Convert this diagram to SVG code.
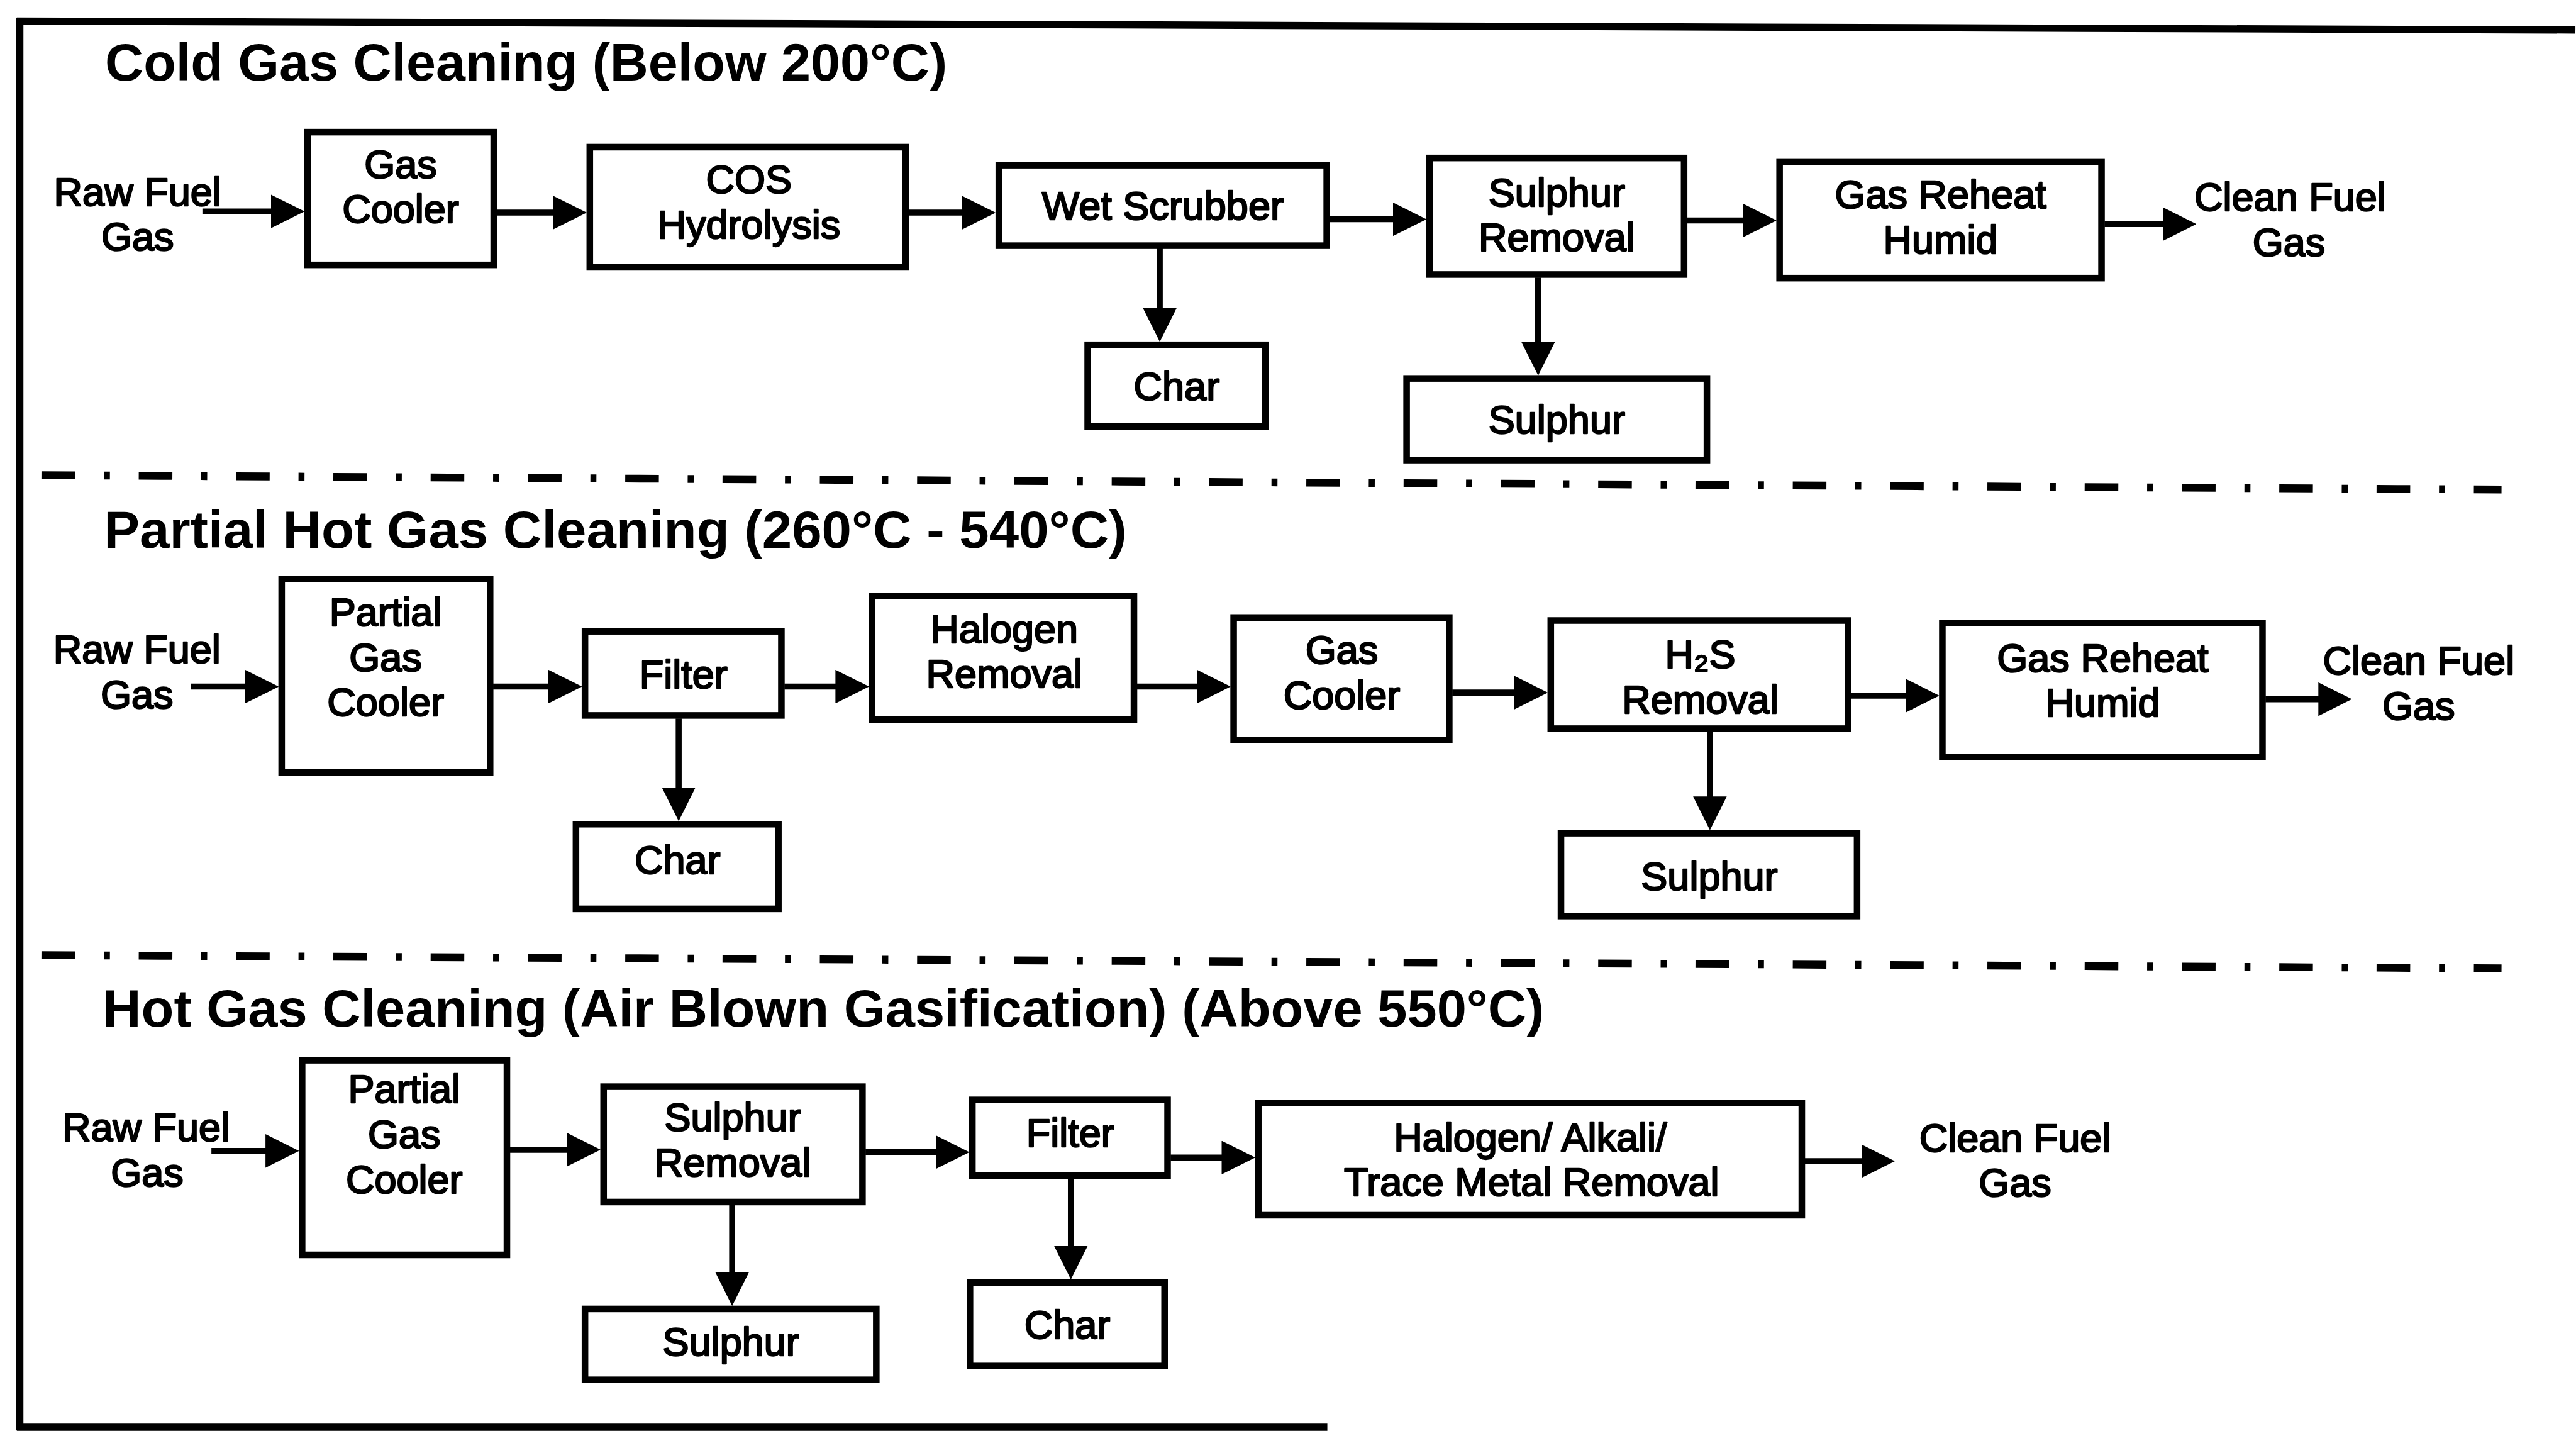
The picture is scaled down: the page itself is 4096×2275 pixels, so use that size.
<svg xmlns="http://www.w3.org/2000/svg" width="4096" height="2275" viewBox="0 0 4096 2275">
<style>
.box{fill:#fff;stroke:#000;stroke-width:11}
.conn{stroke:#000;stroke-width:10;fill:none;marker-end:url(#ah)}
.lbl{font-family:"Liberation Sans",Arial,sans-serif;font-size:66px;text-anchor:middle;fill:#000;stroke:#000;stroke-width:2.5;stroke-linejoin:round}
.title{font-family:"Liberation Sans",Arial,sans-serif;font-weight:bold;font-size:88px;fill:#000}
.frame{stroke:#000;stroke-width:12;fill:none}
.sep{stroke:#000;stroke-width:13;stroke-dasharray:56 48 10 48;fill:none}
</style>
<defs>
<marker id="ah" markerUnits="userSpaceOnUse" markerWidth="56" markerHeight="56" refX="40" refY="28" orient="auto" viewBox="0 0 56 56">
<path d="M0,0 L56,28 L0,56 z" fill="#000"/>
</marker>
</defs>
<rect width="4096" height="2275" fill="#fff"/>
<g transform="scale(0.955)">
<g id="frame">
<line class="frame" x1="28" y1="35" x2="4288" y2="50"/>
<line class="frame" x1="33" y1="30" x2="33" y2="2381"/>
<line class="frame" x1="28" y1="2376" x2="2210" y2="2376"/>
<line class="sep" x1="69" y1="791" x2="4165" y2="815"/>
<line class="sep" x1="69" y1="1590" x2="4165" y2="1612"/>
</g>
<g id="titles">
<text class="title" x="175" y="134" textLength="1402" lengthAdjust="spacingAndGlyphs">Cold Gas Cleaning (Below 200°C)</text>
<text class="title" x="173" y="912" textLength="1703" lengthAdjust="spacingAndGlyphs">Partial Hot Gas Cleaning (260°C - 540°C)</text>
<text class="title" x="171" y="1709" textLength="2400" lengthAdjust="spacingAndGlyphs">Hot Gas Cleaning (Air Blown Gasification) (Above 550°C)</text>
</g>
<g id="connectors">
<line class="conn" x1="337" y1="352" x2="491" y2="352"/>
<line class="conn" x1="822" y1="354" x2="961" y2="354"/>
<line class="conn" x1="1513" y1="354" x2="1642" y2="354"/>
<line class="conn" x1="2214" y1="365" x2="2359" y2="365"/>
<line class="conn" x1="2809" y1="367" x2="2942" y2="367"/>
<line class="conn" x1="3504" y1="373" x2="3641" y2="373"/>
<line class="conn" x1="1931" y1="413" x2="1931" y2="553"/>
<line class="conn" x1="2561" y1="462" x2="2561" y2="609"/>
<line class="conn" x1="318" y1="1143" x2="448" y2="1143"/>
<line class="conn" x1="821" y1="1143" x2="953" y2="1143"/>
<line class="conn" x1="1306" y1="1143" x2="1431" y2="1143"/>
<line class="conn" x1="1893" y1="1143" x2="2033" y2="1143"/>
<line class="conn" x1="2418" y1="1153" x2="2561" y2="1153"/>
<line class="conn" x1="3082" y1="1158" x2="3213" y2="1158"/>
<line class="conn" x1="3772" y1="1164" x2="3900" y2="1164"/>
<line class="conn" x1="1130" y1="1196" x2="1130" y2="1351"/>
<line class="conn" x1="2847" y1="1218" x2="2847" y2="1366"/>
<line class="conn" x1="352" y1="1916" x2="482" y2="1916"/>
<line class="conn" x1="849" y1="1914" x2="984" y2="1914"/>
<line class="conn" x1="1441" y1="1918" x2="1598" y2="1918"/>
<line class="conn" x1="1949" y1="1927" x2="2074" y2="1927"/>
<line class="conn" x1="3005" y1="1933" x2="3139" y2="1933"/>
<line class="conn" x1="1219" y1="2006" x2="1219" y2="2158"/>
<line class="conn" x1="1783" y1="1962" x2="1783" y2="2114"/>
</g>
<g id="raw1"><text class="lbl"><tspan x="229" y="342">Raw Fuel</tspan><tspan x="229" y="417">Gas</tspan></text></g>
<g id="gascooler1"><rect class="box" x="512" y="220" width="310" height="221"/><text class="lbl"><tspan x="667" y="296">Gas</tspan><tspan x="667" y="371">Cooler</tspan></text></g>
<g id="cos"><rect class="box" x="982" y="245" width="526" height="200"/><text class="lbl"><tspan x="1247" y="322">COS</tspan><tspan x="1247" y="397">Hydrolysis</tspan></text></g>
<g id="wetscrubber"><rect class="box" x="1663" y="275" width="546" height="134"/><text class="lbl" x="1936" y="365">Wet Scrubber</text></g>
<g id="char1"><rect class="box" x="1811" y="574" width="296" height="136"/><text class="lbl" x="1959" y="666">Char</text></g>
<g id="sulrem1"><rect class="box" x="2380" y="263" width="424" height="194"/><text class="lbl"><tspan x="2592" y="343">Sulphur</tspan><tspan x="2592" y="418">Removal</tspan></text></g>
<g id="sulphur1"><rect class="box" x="2342" y="630" width="500" height="136"/><text class="lbl" x="2592" y="722">Sulphur</text></g>
<g id="reheat1"><rect class="box" x="2963" y="269" width="536" height="194"/><text class="lbl"><tspan x="3231" y="347">Gas Reheat</tspan><tspan x="3231" y="422">Humid</tspan></text></g>
<g id="clean1"><text class="lbl"><tspan x="3813" y="351">Clean Fuel</tspan><tspan x="3811" y="426">Gas</tspan></text></g>
<g id="raw2"><text class="lbl"><tspan x="228" y="1104">Raw Fuel</tspan><tspan x="228" y="1179">Gas</tspan></text></g>
<g id="pgc2"><rect class="box" x="469" y="964" width="347" height="322"/><text class="lbl"><tspan x="642" y="1042">Partial</tspan><tspan x="642" y="1117">Gas</tspan><tspan x="642" y="1192">Cooler</tspan></text></g>
<g id="filter2"><rect class="box" x="974" y="1051" width="327" height="140"/><text class="lbl" x="1138" y="1146">Filter</text></g>
<g id="char2"><rect class="box" x="959" y="1372" width="337" height="141"/><text class="lbl" x="1128" y="1454">Char</text></g>
<g id="halogen2"><rect class="box" x="1452" y="992" width="436" height="206"/><text class="lbl"><tspan x="1672" y="1070">Halogen</tspan><tspan x="1672" y="1145">Removal</tspan></text></g>
<g id="gascooler2"><rect class="box" x="2054" y="1028" width="359" height="204"/><text class="lbl"><tspan x="2234" y="1105">Gas</tspan><tspan x="2234" y="1180">Cooler</tspan></text></g>
<g id="h2s"><rect class="box" x="2582" y="1033" width="495" height="180"/><text class="lbl"><tspan x="2831" y="1112">H₂S</tspan><tspan x="2831" y="1187">Removal</tspan></text></g>
<g id="sulphur2"><rect class="box" x="2599" y="1387" width="493" height="138"/><text class="lbl" x="2846" y="1482">Sulphur</text></g>
<g id="reheat2"><rect class="box" x="3234" y="1037" width="533" height="223"/><text class="lbl"><tspan x="3501" y="1118">Gas Reheat</tspan><tspan x="3501" y="1193">Humid</tspan></text></g>
<g id="clean2"><text class="lbl"><tspan x="4027" y="1123">Clean Fuel</tspan><tspan x="4027" y="1198">Gas</tspan></text></g>
<g id="raw3"><text class="lbl"><tspan x="243" y="1900">Raw Fuel</tspan><tspan x="245" y="1975">Gas</tspan></text></g>
<g id="pgc3"><rect class="box" x="503" y="1765" width="341" height="324"/><text class="lbl"><tspan x="673" y="1836">Partial</tspan><tspan x="673" y="1911">Gas</tspan><tspan x="673" y="1986">Cooler</tspan></text></g>
<g id="sulrem3"><rect class="box" x="1005" y="1809" width="431" height="192"/><text class="lbl"><tspan x="1220" y="1883">Sulphur</tspan><tspan x="1220" y="1958">Removal</tspan></text></g>
<g id="sulphur3"><rect class="box" x="974" y="2179" width="485" height="118"/><text class="lbl" x="1217" y="2257">Sulphur</text></g>
<g id="filter3"><rect class="box" x="1619" y="1831" width="325" height="126"/><text class="lbl" x="1782" y="1909">Filter</text></g>
<g id="char3"><rect class="box" x="1615" y="2135" width="324" height="139"/><text class="lbl" x="1777" y="2228">Char</text></g>
<g id="halogen3"><rect class="box" x="2095" y="1836" width="905" height="187"/><text class="lbl"><tspan x="2548" y="1916">Halogen/ Alkali/</tspan><tspan x="2550" y="1991">Trace Metal Removal</tspan></text></g>
<g id="clean3"><text class="lbl"><tspan x="3355" y="1917">Clean Fuel</tspan><tspan x="3355" y="1992">Gas</tspan></text></g>
</g>
</svg>
